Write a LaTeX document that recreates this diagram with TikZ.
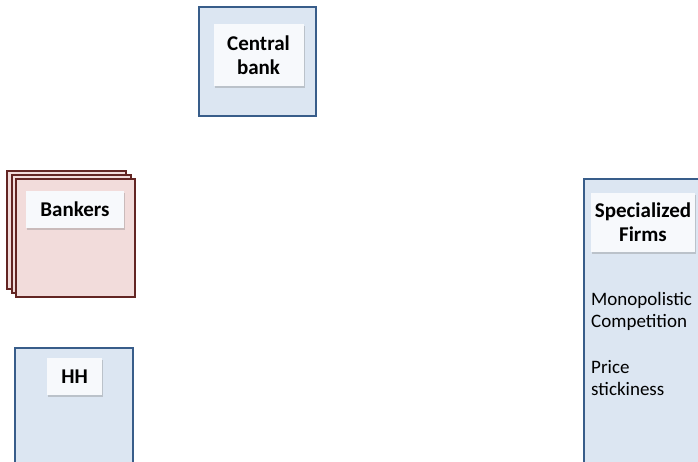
\documentclass[tikz,border=0pt]{standalone}
\usepackage{fontspec}
\setmainfont{Carlito}
\usetikzlibrary{shadows}
\definecolor{bluefill}{HTML}{DCE6F2}
\definecolor{blueline}{HTML}{385D8A}
\definecolor{redfill}{HTML}{F2DCDB}
\definecolor{redline}{HTML}{632523}
\definecolor{labelfill}{HTML}{F7F9FC}
\begin{document}
\begin{tikzpicture}[x=1pt,y=-1pt,
  bluebox/.style={draw=blueline,fill=bluefill,line width=2pt,inner sep=0pt},
  redbox/.style={draw=redline,fill=redfill,line width=2pt,inner sep=0pt,minimum width=119pt,minimum height=118pt},
  labelbox/.style={fill=labelfill,inner sep=0pt,align=center,font=\fontsize{21}{24}\selectfont\bfseries,
    drop shadow={shadow xshift=1pt,shadow yshift=-1.5pt,opacity=0.35}},
  bodytext/.style={inner sep=0pt,align=left,anchor=west,font=\fontsize{19}{22}\selectfont}]
\useasboundingbox (0,0) rectangle (698,461);
\fill[white] (0,0) rectangle (698,461);
% Central bank
\node[bluebox,minimum width=117pt,minimum height=109pt] (cb) at (257.5,61.5) {};
\node[labelbox,minimum width=90pt,minimum height=62pt] (cbl) at (258.5,55) {Central\\bank};
% Bankers
\node[redbox] (bk3) at (66.5,229.5) {};
\node[redbox] (bk2) at (71,233.75) {};
\node[redbox] (bk1) at (75.5,238) {};
\node[labelbox,minimum width=98pt,minimum height=37pt] (bkl) at (75,209.5) {Bankers};
% HH
\node[bluebox,minimum width=118pt,minimum height=172pt] (hh) at (74,434) {};
\node[labelbox,minimum width=55pt,minimum height=37pt] (hhl) at (74.5,376.5) {HH};
% Specialized firms
\node[bluebox,minimum width=136pt,minimum height=341pt] (sf) at (652,349.5) {};
\node[labelbox,minimum width=104pt,minimum height=59pt] (sfl) at (643,222.5) {Specialized\\Firms};
\node[bodytext] (mc) at (591,311) {Monopolistic\\Competition};
\node[bodytext] (ps) at (591,378) {Price\\stickiness};
\end{tikzpicture}
\end{document}
